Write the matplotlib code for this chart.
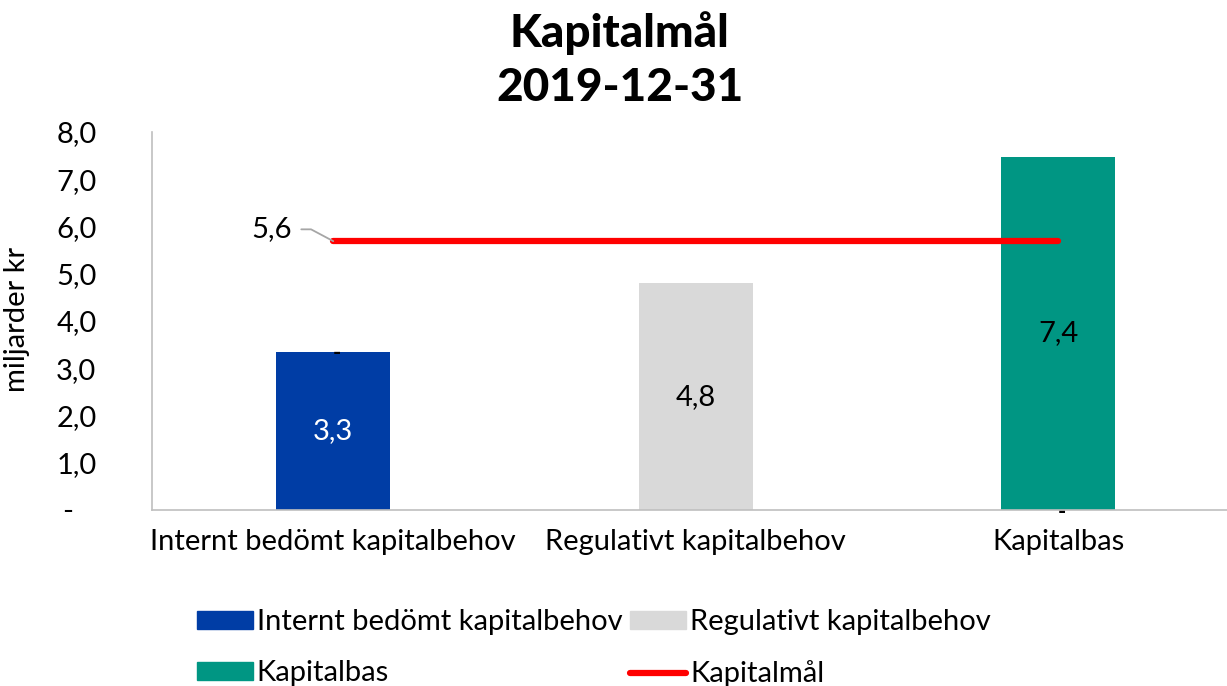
import matplotlib
matplotlib.use('Agg')
import matplotlib.pyplot as plt
from matplotlib.patches import Patch
from matplotlib.lines import Line2D

# data
categories = ['Internt bedömt kapitalbehov', 'Regulativt kapitalbehov', 'Kapitalbas']
values = [3.35, 4.8, 7.47]
value_labels = ['3,3', '4,8', '7,4']
target = 5.69
target_label = '5,6'
yticks = [0, 1, 2, 3, 4, 5, 6, 7, 8]
ytick_labels = ['-   ', '1,0', '2,0', '3,0', '4,0', '5,0', '6,0', '7,0', '8,0']

colors = ['#003DA5', '#D9D9D9', '#009683']
label_colors = ['white', 'black', 'black']

plt.rcParams['font.family'] = ['Lato', 'DejaVu Sans']

fig = plt.figure(figsize=(12.27, 6.86), dpi=100)
ax = fig.add_axes([152 / 1227, 176 / 686, 1 - 152 / 1227, 378 / 686])

x = list(range(len(categories)))
ax.bar(x, values, width=0.315, color=colors)

# value labels in the middle of the bars
for i, v in enumerate(values):
    ax.text(i, v / 2, value_labels[i], ha='center', va='center',
            fontsize=21, color=label_colors[i])

# the little "-" zero labels Excel leaves behind
ax.text(0.01, values[0] - 0.04, '-', ha='center', va='center', fontsize=16,
        fontweight='bold', color='black')
ax.text(2.01, -0.06, '-', ha='center', va='center', fontsize=16,
        fontweight='bold', color='black', clip_on=False)

# capital target line
ax.plot([0, 2], [target, target], color='#FF0000', lw=4.5, solid_capstyle='round')
ax.annotate(target_label, xy=(0, target), xytext=(-0.115, target + 0.25),
            fontsize=21, ha='right', va='center',
            arrowprops=dict(arrowstyle='-', color='#A6A6A6', lw=1.3,
                            connectionstyle='angle,angleA=0,angleB=-28,rad=0',
                            shrinkA=5, shrinkB=0))

ax.set_xlim(-0.5, -0.5 + 1075 / 362.5)
ax.set_ylim(0, 8)
ax.set_yticks(yticks)
ax.set_yticklabels(ytick_labels, fontsize=21)
ax.set_xticks(x)
ax.set_xticklabels(categories, fontsize=21)
ax.tick_params(length=0)
ax.tick_params(axis='x', pad=14)
ax.tick_params(axis='y', pad=40)
ax.set_ylabel('miljarder kr', fontsize=21)
ax.yaxis.set_label_coords(-0.1135, 0.503)
for s in ['top', 'right']:
    ax.spines[s].set_visible(False)
for s in ['left', 'bottom']:
    ax.spines[s].set_color('#BFBFBF')
    ax.spines[s].set_linewidth(1.2)

fig.text(0.505, 0.952, 'Kapitalmål', ha='center', va='center',
         fontsize=33, fontweight='black')
fig.text(0.505, 0.871, '2019-12-31', ha='center', va='center',
         fontsize=33, fontweight='black')

# legend filled row by row like the reference
handles = [Patch(color=colors[0]), Patch(color=colors[2]),
           Patch(color=colors[1]),
           Line2D([], [], color='#FF0000', lw=4.5, solid_capstyle='round')]
labels = [categories[0], categories[2], categories[1], 'Kapitalmål']
fig.legend(handles, labels, ncol=2, loc='center', bbox_to_anchor=(0.484, 0.055),
           frameon=False, fontsize=21, handlelength=1.9, handleheight=0.55,
           handletextpad=0.14, columnspacing=0.28, labelspacing=0.85,
           borderpad=0)

fig.savefig('out.png', dpi=100)
